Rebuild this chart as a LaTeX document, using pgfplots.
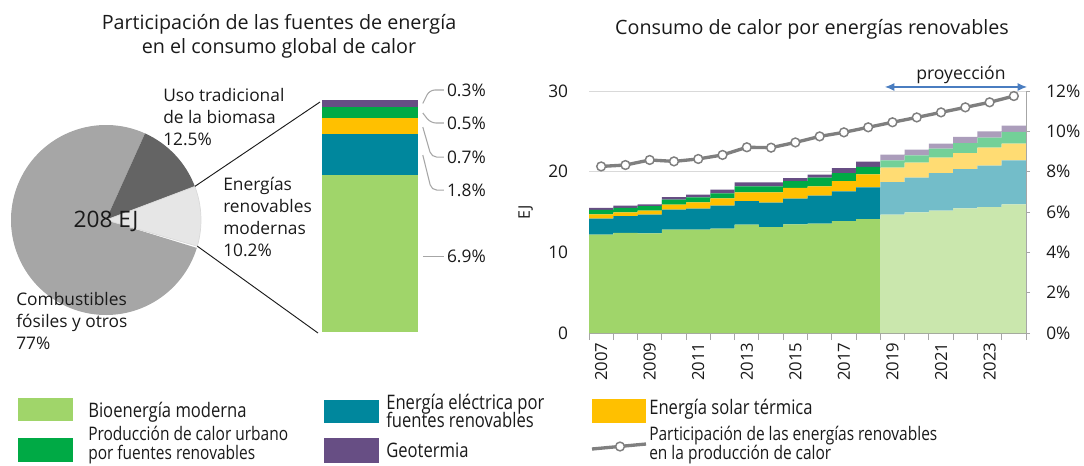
\documentclass[border=0pt]{standalone}
\usepackage{fontspec}
\setmainfont{Open Sans}
\newfontfamily\legfont{Open Sans}[FakeStretch=0.83]
\usepackage{pgfplots}
\pgfplotsset{compat=1.18}
\usetikzlibrary{arrows.meta}

\definecolor{cbio}{HTML}{A0D56A}
\definecolor{celec}{HTML}{00879D}
\definecolor{csolar}{HTML}{FFC000}
\definecolor{cdh}{HTML}{00AA45}
\definecolor{cgeo}{HTML}{674E84}
\definecolor{piegray}{HTML}{A6A6A6}
\definecolor{piedark}{HTML}{646464}
\definecolor{pielight}{HTML}{E6E6E6}
\definecolor{linegray}{HTML}{7F7F7F}
\definecolor{axisgray}{HTML}{A6A6A6}
\definecolor{gridgray}{HTML}{D9D9D9}
\definecolor{arrowblue}{HTML}{4A7DC0}
\definecolor{txt}{HTML}{1A1A1A}

% renewable heat consumption (EJ), x = left edge of each year step
\pgfplotstableread{
x      bio   elec  solar dh   geo
2006.5 12.19 1.98  0.54  0.54 0.25
2007.5 12.40 2.10  0.46  0.54 0.29
2008.5 12.36 2.31  0.50  0.57 0.21
2009.5 12.81 2.48  0.62  0.62 0.33
2010.5 12.81 2.60  0.79  0.62 0.33
2011.5 12.93 2.86  0.90  0.62 0.46
2012.5 13.43 2.93  1.08  0.74 0.50
2013.5 13.14 3.02  1.28  0.74 0.50
2014.5 13.47 3.18  1.33  0.86 0.37
2015.5 13.55 3.47  1.16  1.08 0.37
2016.5 13.88 3.68  1.28  0.99 0.62
2017.5 14.13 3.93  1.61  0.91 0.66
2018.5 14.67 4.05  1.78  0.90 0.70
2019.5 14.96 4.30  1.86  0.90 0.71
2020.5 15.17 4.66  1.91  1.11 0.62
2021.5 15.45 4.88  1.98  1.24 0.75
2022.5 15.62 5.12  2.24  1.23 0.79
2023.5 15.95 5.45  2.07  1.45 0.78
2024.5 15.95 5.45  2.07  1.45 0.78
}\heatdata

% share of renewables in heat (%)
\pgfplotstableread{
year share
2007 8.26
2008 8.33
2009 8.58
2010 8.51
2011 8.63
2012 8.83
2013 9.21
2014 9.19
2015 9.45
2016 9.75
2017 9.95
2018 10.20
2019 10.45
2020 10.69
2021 10.94
2022 11.19
2023 11.44
2024 11.75
}\sharedata

% pie shares (%)
\def\pFossil{77}
\def\pTrad{12.5}
\def\pModern{10.2}
\def\pStart{-16}
\def\pR{71.25pt}

\tikzset{leader/.style={draw=axisgray, line width=0.8pt, rounded corners=4pt}}

\begin{document}
\begin{tikzpicture}[font=\fontsize{13}{16.5}\selectfont, text=txt]
\path[use as bounding box] (0,0) rectangle (813pt,-348.75pt);

% ---------- titles (pixel grid) ----------
\begin{scope}[x=0.75pt, y=-0.75pt]
\coordinate (rc) at (589,333);
\coordinate (bc) at (322,332);
\node[font=\fontsize{14.8}{18}\selectfont] at (279,24) {Participación de las fuentes de energía};
\node[font=\fontsize{14.8}{18}\selectfont] at (279,48) {en el consumo global de calor};
\node[font=\fontsize{14.8}{18}\selectfont] at (812,29) {Consumo de calor por energías renovables};
\end{scope}

% ---------- pie ----------
\begin{scope}[shift={(79.5pt,-165pt)}]
\pgfmathsetmacro{\aA}{\pStart+3.6*\pModern}
\pgfmathsetmacro{\aB}{\aA+3.6*\pTrad}
\pgfmathsetmacro{\aC}{\aB+3.6*\pFossil}
\fill[piegray] (0,0) -- (\aB:\pR) arc[start angle=\aB, end angle=\aC, radius=\pR] -- cycle;
\fill[piedark] (0,0) -- (\aA:\pR) arc[start angle=\aA, end angle=\aB, radius=\pR] -- cycle;
\filldraw[fill=pielight, draw=gridgray, line width=0.5pt] (0,0) -- (\pStart:\pR) arc[start angle=\pStart, end angle=\aA, radius=\pR] -- cycle;
\coordinate (pA) at (\aA:\pR);
\coordinate (pB) at (\pStart:\pR);
\node[font=\fontsize{17}{20}\selectfont] at (0,-0.75pt) {208 EJ};
\end{scope}
\draw[line width=0.7pt, txt] (pA) -- (240pt,-76.5pt);
\draw[line width=0.7pt, txt] (pB) -- (238.5pt,-249.75pt);

\begin{scope}[x=0.75pt, y=-0.75pt]
\node[anchor=west, align=left, inner sep=0] at (163,117) {Uso tradicional\\de la biomasa\\12.5\%};
\node[anchor=west, align=left, inner sep=0] at (223,217) {Energías\\renovables\\modernas\\10.2\%};
\node[anchor=west, align=left, inner sep=0] at (16,321) {Combustibles\\fósiles y otros\\77\%};
\end{scope}

% ---------- stacked bar of modern renewables ----------
\begin{axis}[at={(bc)}, anchor=south west, scale only axis,
  width=72pt, height=174pt, xmin=-0.5, xmax=0.5, ymin=0, ymax=10.2,
  ybar stacked, bar width=72pt, hide axis, clip=false]
\addplot[fill=cbio, draw=none] coordinates {(0,6.9)};
\addplot[fill=celec, draw=none] coordinates {(0,1.8)};
\addplot[fill=csolar, draw=none] coordinates {(0,0.7)};
\addplot[fill=cdh, draw=none] coordinates {(0,0.5)};
\addplot[fill=cgeo, draw=none] coordinates {(0,0.3)};
\draw[leader] (axis cs:0.55,10.05) -- (axis cs:0.62,10.64) -- (axis cs:0.77,10.64);
\draw[leader] (axis cs:0.55,9.63) -- (axis cs:0.63,9.19) -- (axis cs:0.77,9.19);
\draw[leader] (axis cs:0.55,9.01) -- (axis cs:0.64,7.69) -- (axis cs:0.77,7.69);
\draw[leader] (axis cs:0.55,7.78) -- (axis cs:0.64,6.24) -- (axis cs:0.77,6.24);
\draw[leader] (axis cs:0.55,3.34) -- (axis cs:0.77,3.34);
\node[anchor=west, inner sep=0] at (axis cs:0.80,10.64) {0.3\%};
\node[anchor=west, inner sep=0] at (axis cs:0.80,9.19) {0.5\%};
\node[anchor=west, inner sep=0] at (axis cs:0.80,7.69) {0.7\%};
\node[anchor=west, inner sep=0] at (axis cs:0.80,6.24) {1.8\%};
\node[anchor=west, inner sep=0] at (axis cs:0.80,3.34) {6.9\%};
\end{axis}

% ---------- renewable heat consumption, stacked steps ----------
\begin{axis}[at={(rc)}, anchor=south west, scale only axis,
  width=327.75pt, height=181.5pt,
  xmin=2006.5, xmax=2024.5, ymin=0, ymax=30,
  stack plots=y,
  axis x line*=bottom, axis y line*=left,
  x axis line style={draw=axisgray, line width=0.75pt, -},
  y axis line style={draw=none},
  ytick={0,10,20,30}, ymajorgrids,
  grid style={draw=gridgray, line width=0.75pt},
  xtick={2007,2009,...,2023},
  minor xtick={2006.5,2007.5,...,2024.5},
  tick align=outside, major tick length=0pt, minor tick length=5.25pt,
  minor tick style={draw=axisgray, line width=0.75pt},
  /pgf/number format/assume math mode=true,
  /pgf/number format/1000 sep={},
  xticklabel style={rotate=90, anchor=east, inner xsep=7pt, inner ysep=0pt,
    font=\fontsize{12.5}{15}\selectfont},
  yticklabel style={inner xsep=15.5pt, font=\fontsize{13}{15}\selectfont},
  ylabel={EJ}, ylabel style={at={(rel axis cs:-0.145,0.5)}, anchor=center,
    font=\fontsize{12}{14}\selectfont},
]
\addplot[const plot, fill=cbio, draw=none] table[x=x, y=bio] {\heatdata} \closedcycle;
\addplot[const plot, fill=celec, draw=none] table[x=x, y=elec] {\heatdata} \closedcycle;
\addplot[const plot, fill=csolar, draw=none] table[x=x, y=solar] {\heatdata} \closedcycle;
\addplot[const plot, fill=cdh, draw=none] table[x=x, y=dh] {\heatdata} \closedcycle;
\addplot[const plot, fill=cgeo, draw=none] table[x=x, y=geo] {\heatdata} \closedcycle;
\end{axis}

% ---------- share line, right axis ----------
\begin{axis}[at={(rc)}, anchor=south west, scale only axis,
  width=327.75pt, height=181.5pt,
  xmin=2006.5, xmax=2024.5, ymin=0, ymax=12,
  axis x line=none, axis y line*=right,
  y axis line style={draw=axisgray, line width=0.75pt, -},
  ytick={0,2,...,12},
  tick align=outside, major tick length=3pt,
  every tick/.style={draw=axisgray, line width=0.75pt},
  /pgf/number format/assume math mode=true,
  yticklabel={\pgfmathprintnumber{\tick}\%},
  yticklabel style={anchor=west, inner xsep=12pt, font=\fontsize{13}{15}\selectfont},
  clip=false,
]
% projected years (2019-2024) shown lighter
\fill[white, fill opacity=0.45] (axis cs:2018.5,0) rectangle (axis cs:2024.5,10.6);
\addplot[linegray, line width=2.5pt, mark=*, mark size=3.3pt,
  mark options={fill=white, draw=linegray, line width=1.1pt}]
  table[x=year, y=share] {\sharedata};
\draw[<->, arrowblue, line width=0.9pt, >={Latex[length=7pt, width=6pt]}]
  (axis cs:2018.69,12.2) -- (axis cs:2024.54,12.2);
\node[font=\fontsize{13.2}{15}\selectfont] at (axis cs:2021.82,12.8) {proyección};
\end{axis}

% ---------- legend ----------
\begin{scope}[x=0.75pt, y=-0.75pt, font=\legfont\fontsize{15}{11}\selectfont]
\fill[cbio] (18,398) rectangle (73,421);
\fill[cdh] (18,438) rectangle (73,462);
\fill[celec] (324,400) rectangle (379,423);
\fill[cgeo] (324,438) rectangle (379,463);
\fill[csolar] (592,399) rectangle (646,423);
\draw[linegray, line width=2.5pt] (592,449) -- (646,444);
\draw[linegray, fill=white, line width=1.1pt] (620,446.5) circle[radius=3.3pt];
\node[anchor=base west, inner sep=0] at (88,417) {Bioenergía moderna};
\node[anchor=base west, inner sep=0, font=\legfont\fontsize{14}{11}\selectfont] at (88,440.5) {Producción de calor urbano};
\node[anchor=base west, inner sep=0, font=\legfont\fontsize{14}{11}\selectfont] at (88,459.5) {por fuentes renovables};
\node[anchor=base west, inner sep=0] at (386,409.3) {Energía eléctrica por};
\node[anchor=base west, inner sep=0] at (386,427.7) {fuentes renovables};
\node[anchor=base west, inner sep=0] at (386,457) {Geotermia};
\node[anchor=base west, inner sep=0] at (649,414.3) {Energía solar térmica};
\node[anchor=base west, inner sep=0, font=\legfont\fontsize{14}{11}\selectfont] at (649,440.5) {Participación de las energías renovables};
\node[anchor=base west, inner sep=0, font=\legfont\fontsize{14}{11}\selectfont] at (649,459.5) {en la producción de calor};
\end{scope}
\end{tikzpicture}
\end{document}
